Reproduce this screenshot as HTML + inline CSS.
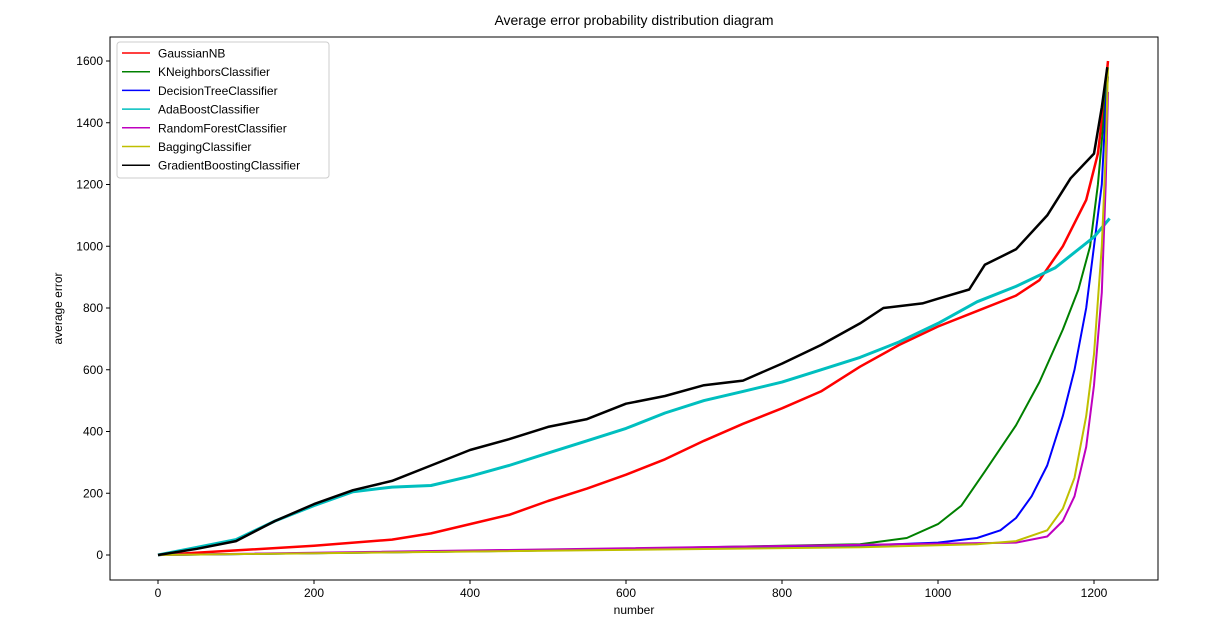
<!DOCTYPE html>
<html><head><meta charset="utf-8"><style>
body{margin:0;background:#fff;}
svg{display:block;font-family:"Liberation Sans","DejaVu Sans",sans-serif;}
</style></head><body>
<svg id="c" width="1232" height="633"></svg>
<script>
const xTicks=[0,200,400,600,800,1000,1200];
const yTicks=[0,200,400,600,800,1000,1200,1400,1600];
const seriesNames=["GaussianNB","KNeighborsClassifier","DecisionTreeClassifier","AdaBoostClassifier","RandomForestClassifier","BaggingClassifier","GradientBoostingClassifier"];
const seriesColors=["#ff0000","#008000","#0000ff","#00bfbf","#bf00bf","#bfbf00","#000000"];
const gnbX=[0,100,200,300,350,400,450,500,550,600,650,700,750,800,850,900,950,1000,1050,1100,1130,1160,1190,1205,1212,1218];
const gnbY=[0,15,30,50,70,100,130,175,215,260,310,370,425,475,530,610,680,740,790,840,890,1000,1150,1300,1450,1600];
const knnX=[0,500,900,960,1000,1030,1060,1100,1130,1160,1180,1195,1205,1212,1217];
const knnY=[0,15,35,55,100,160,270,420,560,730,860,1000,1200,1400,1560];
const dtX=[0,500,900,1000,1050,1080,1100,1120,1140,1160,1175,1190,1200,1210,1215,1218];
const dtY=[0,15,30,40,55,80,120,190,290,450,600,800,1000,1200,1450,1550];
const adaX=[0,50,100,150,200,250,300,350,400,450,500,550,600,650,700,750,800,850,900,950,1000,1050,1100,1150,1200,1220];
const adaY=[0,25,50,110,160,205,220,225,255,290,330,370,410,460,500,530,560,600,640,690,750,820,870,930,1030,1090];
const rfX=[0,1100,1140,1160,1175,1190,1200,1210,1215,1218];
const rfY=[0,40,60,110,190,350,550,850,1200,1500];
const bagX=[0,900,1050,1100,1140,1160,1175,1190,1200,1210,1215,1218];
const bagY=[0,25,35,45,80,150,250,450,650,1000,1300,1580];
const gbX=[0,50,100,150,200,250,300,350,400,450,500,550,600,650,700,750,800,850,900,930,980,1000,1040,1060,1100,1140,1170,1200,1210,1217];
const gbY=[0,20,45,110,165,210,240,290,340,375,415,440,490,515,550,565,620,680,750,800,815,830,860,940,990,1100,1220,1300,1450,1580];
const seriesX=[gnbX,knnX,dtX,adaX,rfX,bagX,gbX];
const seriesY=[gnbY,knnY,dtY,adaY,rfY,bagY,gbY];
const widths=[2.5,2,2,3,2,2,2.5];
const drawOrder=[0,1,2,3,4,5,6];

const NS="http://www.w3.org/2000/svg";
const svg=document.getElementById('c');
const L=110,R=1158,T=37,B=580;
const sx=v=>158+v*0.78;
const sy=v=>555-v*0.30875;
function el(tag,attrs,parent){const e=document.createElementNS(NS,tag);for(const k in attrs)e.setAttribute(k,attrs[k]);(parent||svg).appendChild(e);return e;}

let t=el('text',{x:(L+R)/2,y:25,'text-anchor':'middle','font-size':14,fill:'#000'});t.textContent="Average error probability distribution diagram";



xTicks.forEach(v=>{
 let l=el('line',{x1:sx(v),x2:sx(v),y1:B,y2:B+4,stroke:'#000'});
 
 
 let tx=el('text',{x:sx(v),y:B+17,'text-anchor':'middle','font-size':12});tx.textContent=v;
 
 
});
yTicks.forEach(v=>{
 let l=el('line',{x1:L-4,x2:L,y1:sy(v),y2:sy(v),stroke:'#000'});
 
 
 let tx=el('text',{x:L-7,y:sy(v)+4,'text-anchor':'end','font-size':12});tx.textContent=v;
 
 
});
let xl=el('text',{x:(L+R)/2,y:614,'text-anchor':'middle','font-size':12});xl.textContent="number";


let yl=el('text',{x:0,y:0,'text-anchor':'middle','font-size':12,transform:`translate(62,${(T+B)/2}) rotate(-90)`});yl.textContent="average error";



drawOrder.forEach(i=>{
 const pts=seriesX[i].map((x,j)=>sx(x).toFixed(1)+','+sy(seriesY[i][j]).toFixed(1)).join(' ');
 let p=el('polyline',{points:pts,fill:'none',stroke:seriesColors[i],'stroke-width':widths[i],'stroke-linejoin':'round'});
 
 
});

let fr=el('rect',{x:L,y:T,width:R-L,height:B-T,fill:'none',stroke:'#000','stroke-width':1});



let lg=el('g',{});


el('rect',{x:117,y:42,width:212,height:136,rx:3,fill:'#fff',stroke:'#ccc'},lg);
seriesNames.forEach((n,i)=>{
 const y=53+i*18.7;
 let g=el('g',{},lg);
 
 
 el('line',{x1:122,x2:150,y1:y,y2:y,stroke:seriesColors[i],'stroke-width':1.5},g);
 let tx=el('text',{x:158,y:y+4.5,'font-size':12},g);tx.textContent=n;
});
</script>
</body></html>
